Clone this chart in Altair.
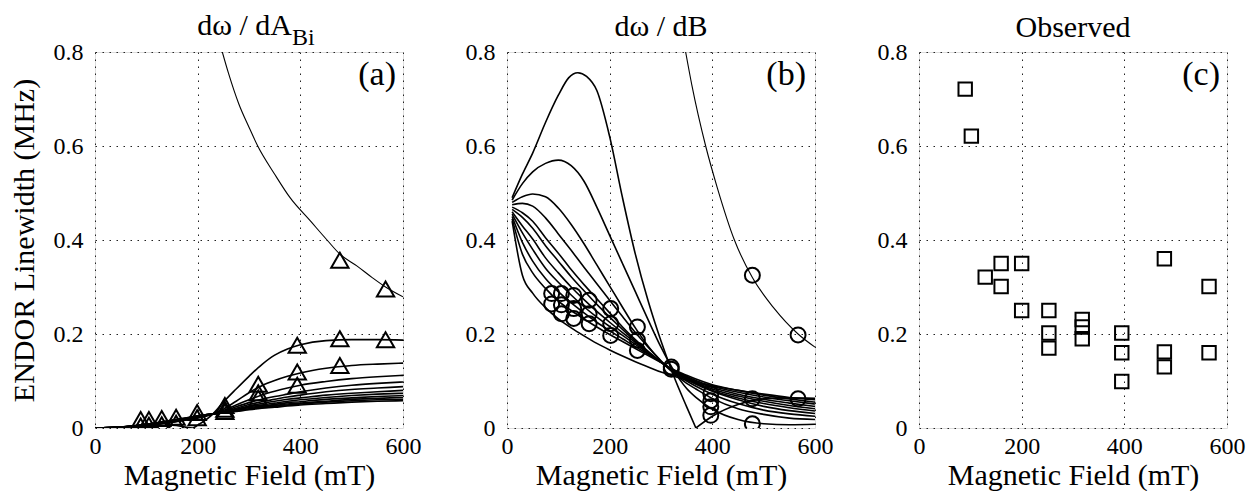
import altair as alt
import pandas as pd

FONT = "Liberation Serif"

# ---------------- Panel (a): d omega / dA_Bi ----------------
A_X = [0, 50, 100, 150, 190, 200, 230, 250, 275, 300, 325, 350, 375, 400, 450, 500, 550, 600]
A_CURVES = {
    "a1": [0, 0.002, 0.006, 0.006, 0.0, 0.006, 0.030, 0.055, 0.083, 0.110, 0.135, 0.155, 0.168, 0.177, 0.186, 0.188, 0.188, 0.187],
    "a2": [0, 0.002, 0.006, 0.012, 0.019, 0.021, 0.030, 0.040, 0.057, 0.075, 0.090, 0.101, 0.110, 0.117, 0.127, 0.133, 0.136, 0.138],
    "a3": [0, 0.002, 0.006, 0.013, 0.020, 0.023, 0.030, 0.037, 0.049, 0.060, 0.070, 0.078, 0.085, 0.091, 0.099, 0.105, 0.109, 0.112],
    "a4": [0, 0.0015, 0.006, 0.013, 0.021, 0.023, 0.030, 0.035, 0.045, 0.054, 0.061, 0.067, 0.072, 0.077, 0.085, 0.091, 0.095, 0.098],
    "a5": [0, 0.0015, 0.006, 0.014, 0.021, 0.023, 0.030, 0.034, 0.042, 0.050, 0.056, 0.061, 0.066, 0.070, 0.077, 0.082, 0.085, 0.088],
    "a6": [0, 0.0017, 0.0065, 0.014, 0.022, 0.024, 0.030, 0.034, 0.040, 0.047, 0.052, 0.057, 0.061, 0.064, 0.070, 0.074, 0.077, 0.080],
    "a7": [0, 0.0018, 0.007, 0.015, 0.022, 0.024, 0.030, 0.033, 0.039, 0.045, 0.049, 0.053, 0.057, 0.060, 0.065, 0.069, 0.072, 0.074],
    "a8": [0, 0.002, 0.007, 0.015, 0.023, 0.025, 0.030, 0.033, 0.038, 0.043, 0.047, 0.050, 0.054, 0.056, 0.061, 0.064, 0.067, 0.069],
    "a9": [0, 0.002, 0.0075, 0.016, 0.023, 0.025, 0.030, 0.033, 0.037, 0.041, 0.045, 0.048, 0.051, 0.053, 0.057, 0.061, 0.063, 0.065],
    "a10": [0, 0.002, 0.008, 0.016, 0.024, 0.026, 0.030, 0.032, 0.036, 0.040, 0.043, 0.046, 0.049, 0.051, 0.055, 0.058, 0.060, 0.061],
    "a11": [0, 0.0022, 0.008, 0.017, 0.024, 0.026, 0.030, 0.032, 0.035, 0.039, 0.042, 0.044, 0.047, 0.049, 0.052, 0.055, 0.057, 0.058],
}
A_THIN_X = [248, 260, 280, 300, 317, 350, 380, 420, 452, 477, 510, 540, 566, 600]
A_THIN_Y = [0.80, 0.755, 0.69, 0.64, 0.60, 0.54, 0.49, 0.44, 0.40, 0.37, 0.345, 0.32, 0.30, 0.279]
A_PTS_X = [89, 89, 105, 105, 130, 130, 158, 158, 199, 199, 253, 253, 253, 318, 318, 318,
           394, 394, 394, 477, 477, 477, 566, 566]
A_PTS_Y = [0.018, 0.004, 0.018, 0.006, 0.020, 0.007, 0.023, 0.010, 0.033, 0.022, 0.048, 0.040, 0.035,
           0.093, 0.075, 0.064, 0.176, 0.119, 0.091, 0.357, 0.190, 0.133, 0.296, 0.188]

# ---------------- Panel (b): d omega / dB ----------------
B1_X = [10, 30, 50, 75, 100, 120, 138, 155, 175, 200, 225, 250, 275, 300, 325, 350, 368]
B1_Y = [0.49, 0.54, 0.585, 0.65, 0.708, 0.745, 0.756, 0.748, 0.718, 0.62, 0.49, 0.37, 0.27, 0.185, 0.11, 0.045, 0.0]
B1R_X = [368, 400, 450, 500, 550, 600]
B1R_Y = [0.0, 0.025, 0.05, 0.062, 0.064, 0.063]
B_X = [10, 30, 50, 75, 100, 125, 150, 175, 200, 225, 250, 275, 300, 325, 350, 368, 400, 450, 500, 550, 600]
B_CURVES = {
    "b2": [0.485, 0.52, 0.545, 0.563, 0.57, 0.558, 0.525, 0.47, 0.41, 0.35, 0.29, 0.23, 0.172, 0.122, 0.084, 0.065, 0.04, 0.018, 0.009, 0.007, 0.008],
    "b3": [0.48, 0.492, 0.498, 0.492, 0.468, 0.433, 0.392, 0.347, 0.302, 0.257, 0.213, 0.174, 0.142, 0.116, 0.095, 0.083, 0.063, 0.041, 0.029, 0.021, 0.018],
    "b4": [0.475, 0.478, 0.472, 0.447, 0.413, 0.378, 0.342, 0.307, 0.272, 0.237, 0.203, 0.172, 0.143, 0.118, 0.100, 0.089, 0.072, 0.052, 0.038, 0.030, 0.025],
    "b5": [0.47, 0.458, 0.44, 0.405, 0.372, 0.337, 0.305, 0.275, 0.245, 0.215, 0.188, 0.163, 0.14, 0.12, 0.103, 0.093, 0.078, 0.06, 0.046, 0.037, 0.031],
    "b6": [0.465, 0.448, 0.425, 0.388, 0.355, 0.322, 0.292, 0.263, 0.236, 0.21, 0.185, 0.162, 0.14, 0.12, 0.104, 0.095, 0.08, 0.064, 0.052, 0.043, 0.036],
    "b7": [0.46, 0.43, 0.402, 0.362, 0.33, 0.30, 0.273, 0.248, 0.225, 0.203, 0.182, 0.161, 0.14, 0.121, 0.106, 0.097, 0.083, 0.068, 0.057, 0.048, 0.041],
    "b8": [0.455, 0.415, 0.38, 0.34, 0.31, 0.283, 0.258, 0.236, 0.216, 0.197, 0.178, 0.159, 0.14, 0.122, 0.108, 0.099, 0.086, 0.072, 0.061, 0.053, 0.046],
    "b9": [0.45, 0.395, 0.355, 0.318, 0.29, 0.266, 0.245, 0.225, 0.207, 0.19, 0.173, 0.157, 0.14, 0.123, 0.11, 0.101, 0.089, 0.076, 0.066, 0.058, 0.051],
    "b10": [0.445, 0.37, 0.33, 0.297, 0.27, 0.25, 0.232, 0.215, 0.199, 0.184, 0.169, 0.154, 0.139, 0.124, 0.112, 0.104, 0.092, 0.08, 0.07, 0.062, 0.055],
    "b11": [0.44, 0.325, 0.287, 0.256, 0.232, 0.213, 0.196, 0.18, 0.166, 0.153, 0.141, 0.13, 0.119, 0.11, 0.102, 0.097, 0.09, 0.08, 0.072, 0.065, 0.06],
}
B_THIN_X = [348, 360, 387, 410, 443, 478, 520, 567, 600]
B_THIN_Y = [0.80, 0.73, 0.60, 0.51, 0.40, 0.32, 0.255, 0.20, 0.172]
B_PTS_X = [87, 87, 106, 106, 106, 130, 130, 130, 160, 160, 160, 202, 202, 202, 254, 254, 254,
           320, 320, 397, 397, 397, 397, 478, 478, 478, 567, 567]
B_PTS_Y = [0.286, 0.264, 0.286, 0.262, 0.243, 0.282, 0.254, 0.233, 0.272, 0.243, 0.222,
           0.254, 0.222, 0.197, 0.215, 0.187, 0.165, 0.130, 0.125, 0.073, 0.058, 0.045, 0.027,
           0.325, 0.062, 0.009, 0.198, 0.062]

# ---------------- Panel (c): Observed ----------------
C_PTS_X = [90, 102, 129, 160, 160, 200, 200, 253, 253, 253, 318, 318, 318, 395, 395, 395,
           478, 478, 478, 565, 565]
C_PTS_Y = [0.721, 0.621, 0.321, 0.350, 0.301, 0.350, 0.250, 0.250, 0.202, 0.170, 0.231, 0.215,
           0.190, 0.202, 0.160, 0.099, 0.360, 0.162, 0.130, 0.301, 0.160]

X_TICKS = [0, 200, 400, 600]
Y_TICKS = [0, 0.2, 0.4, 0.6, 0.8]

W, H = 308, 376


def curves_df(xs, curves):
    rows = []
    for name, ys in curves.items():
        for x, y in zip(xs, ys):
            rows.append({"x": x, "y": y, "curve": name})
    return pd.DataFrame(rows)


x_scale = alt.Scale(domain=[0, 600], nice=False, zero=False)
y_scale = alt.Scale(domain=[0, 0.8], nice=False)


def x_enc():
    return alt.X("x:Q", scale=x_scale, axis=alt.Axis(
        values=X_TICKS, format="d", grid=True, gridDash=[1.5, 5.5], gridColor="#222",
        gridWidth=1, ticks=False, domain=False, labelFont=FONT, labelFontSize=24,
        labelColor="black", labelPadding=6, labelFlush=False,
        title="Magnetic Field (mT)", titleFont=FONT, titleFontSize=30,
        titleFontWeight="normal", titleColor="black", titlePadding=2))


def y_enc(show_title):
    kw = dict(values=Y_TICKS, format=".1~f", grid=True, gridDash=[1.5, 5.5], gridColor="#222",
              gridWidth=1, ticks=False, domain=False, labelFont=FONT, labelFontSize=24,
              labelColor="black", labelPadding=12, labelFlush=False)
    if show_title:
        kw.update(title="ENDOR Linewidth (MHz)", titleFont=FONT, titleFontSize=30,
                  titleFontWeight="normal", titleColor="black", titlePadding=14)
    else:
        kw.update(title=None)
    return alt.Y("y:Q", scale=y_scale, axis=alt.Axis(**kw))


def text_layer(txt, x, y, size, align, baseline):
    return alt.Chart(pd.DataFrame({"t": [txt]})).mark_text(
        font=FONT, fontSize=size, align=align, baseline=baseline, color="black"
    ).encode(text="t:N", x=alt.value(x), y=alt.value(y))


def line_layer(df, width, show_ytitle, detail=None):
    enc = dict(x=x_enc(), y=y_enc(show_ytitle))
    if detail:
        enc["detail"] = detail
    return alt.Chart(df).mark_line(
        color="black", strokeWidth=width, interpolate="monotone", clip=True
    ).encode(**enc)


def point_layer(xs, ys, shape, size, show_ytitle):
    return alt.Chart(pd.DataFrame({"x": xs, "y": ys})).mark_point(
        shape=shape, size=size, filled=False, color="black", strokeWidth=2, opacity=1, clip=True
    ).encode(x=x_enc(), y=y_enc(show_ytitle))


# Panel (a)
pa = alt.layer(
    line_layer(curves_df(A_X, A_CURVES), 1.6, True, "curve:N"),
    line_layer(pd.DataFrame({"x": A_THIN_X, "y": A_THIN_Y}), 1.1, True),
    point_layer(A_PTS_X, A_PTS_Y, "triangle-up", 300, True),
    text_layer("(a)", W - 7, 23, 34, "right", "middle"),
    text_layer("dω / dA", 197, -17, 30, "right", "alphabetic"),
    text_layer("Bi", 197, -7, 24, "left", "alphabetic"),
).properties(width=W, height=H)

# Panel (b)
b_df = pd.concat([
    curves_df(B_X, B_CURVES),
    pd.DataFrame({"x": B1_X, "y": B1_Y, "curve": "b1"}),
    pd.DataFrame({"x": B1R_X, "y": B1R_Y, "curve": "b1r"}),
], ignore_index=True)
pb = alt.layer(
    line_layer(b_df, 1.6, False, "curve:N"),
    line_layer(pd.DataFrame({"x": B_THIN_X, "y": B_THIN_Y}), 1.1, False),
    point_layer(B_PTS_X, B_PTS_Y, "circle", 225, False),
    text_layer("(b)", W - 9, 23, 34, "right", "middle"),
    text_layer("dω / dB", W / 2, -16, 30, "center", "alphabetic"),
).properties(width=W, height=H)

# Panel (c)
pc = alt.layer(
    point_layer(C_PTS_X, C_PTS_Y, "square", 180, False),
    text_layer("(c)", W - 7, 23, 34, "right", "middle"),
    text_layer("Observed", W / 2, -15, 30, "center", "alphabetic"),
).properties(width=W, height=H)

chart = alt.hconcat(
    pa, pb, pc, spacing=104, bounds="flush",
    padding={"left": 0, "top": 2, "right": 0, "bottom": 0}
).configure_view(
    stroke="black", strokeWidth=1.5
).configure_axis(
    labelFont=FONT, titleFont=FONT
).configure(background="white")

chart.save("out.html", embed_options={"renderer": "svg", "actions": False})
